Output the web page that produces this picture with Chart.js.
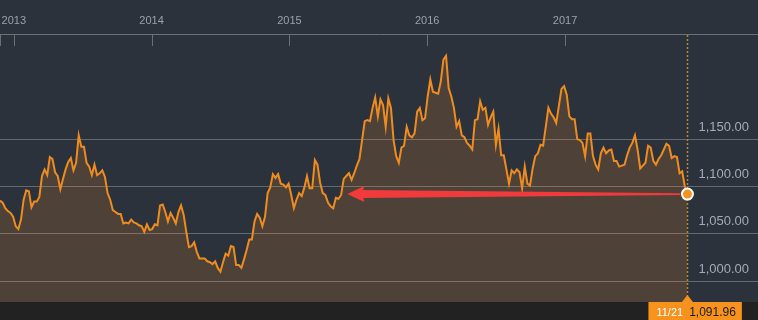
<!DOCTYPE html>
<html lang="en">
<head>
<meta charset="UTF-8">
<title>Weekly close</title>
<script src="https://cdn.jsdelivr.net/npm/chart.js"></script>
<style>
  html, body { margin: 0; padding: 0; background: #2b323c; }
  canvas { display: block; }
</style>
</head>
<body>
<canvas id="priceChart" width="758" height="320"></canvas>
<script>
// weekly closes, 11/2012 -> 11/21/2017
const prices = [
  1085, 1083, 1077, 1074, 1072, 1068, 1058, 1055, 1065, 1086,
  1096, 1095, 1078, 1084, 1084, 1089, 1111, 1118, 1112, 1131,
  1129, 1115, 1111, 1097, 1108, 1118, 1126, 1130, 1117, 1125,
  1154, 1142, 1142, 1125, 1121, 1112, 1123, 1112, 1114, 1117,
  1110, 1093, 1086, 1075, 1073, 1071, 1071, 1061, 1062, 1061,
  1065, 1062, 1061, 1059, 1058, 1052, 1060, 1054, 1055, 1060,
  1059, 1080, 1081, 1073, 1063, 1072, 1067, 1061, 1073, 1080,
  1070, 1052, 1036, 1037, 1041, 1031, 1024, 1024, 1024, 1021,
  1020, 1018, 1021, 1014, 1010, 1020, 1029, 1027, 1037, 1036,
  1017, 1017, 1014, 1023, 1033, 1044, 1044, 1063, 1071, 1067,
  1058, 1068, 1093, 1099, 1113, 1109, 1113, 1103, 1102, 1099,
  1103, 1091, 1077, 1086, 1093, 1090, 1099, 1111, 1098, 1098,
  1128, 1123, 1104, 1093, 1091, 1083, 1079, 1077, 1088, 1087,
  1091, 1108, 1111, 1114, 1107, 1114, 1122, 1129, 1149, 1169,
  1170, 1169, 1183, 1194, 1174, 1192, 1186, 1163, 1193, 1183,
  1149, 1132, 1125, 1141, 1143, 1163, 1154, 1152, 1156, 1179,
  1183, 1170, 1172, 1195, 1213, 1200, 1199, 1198, 1211, 1234,
  1238, 1204, 1195, 1183, 1163, 1169, 1154, 1152, 1146, 1143,
  1139, 1170, 1171, 1190, 1181, 1183, 1165, 1173, 1179, 1144,
  1161, 1133, 1133, 1118, 1103, 1117, 1114, 1118, 1115, 1098,
  1121, 1103, 1101, 1119, 1132, 1135, 1144, 1143, 1163, 1183,
  1177, 1173, 1167, 1185, 1203, 1206, 1197, 1174, 1171, 1171,
  1150, 1149, 1146, 1132, 1156, 1156, 1132, 1123, 1118, 1135,
  1141, 1135, 1138, 1139, 1127, 1127, 1121, 1122, 1123, 1133,
  1141, 1146, 1154, 1139, 1119, 1122, 1125, 1143, 1141, 1127,
  1123, 1129, 1133, 1139, 1145, 1143, 1130, 1132, 1131, 1114,
  1116, 1100, 1091.96
];
const firstWeek = 2012.9;     // decimal year of the first close
const lastWeek = 2017.888;    // 11/21/2017
const lastDateLabel = '11/21';

const yearTicks = [2013, 2014, 2015, 2016, 2017];
const yearLabels = ['2013', '2014', '2015', '2016', '2017'];
const priceTicks = [1000, 1050, 1100, 1150];

const arrowBackTo = 2015.42;  // arrow points back to mid 2015 at today's level

const step = (lastWeek - firstWeek) / (prices.length - 1);
const points = prices.map((v, i) => ({ x: firstWeek + i * step, y: v }));
const lastIdx = prices.length - 1;
const lastPrice = prices[lastIdx];

const fmt = v => v.toLocaleString('en-US', { minimumFractionDigits: 2, maximumFractionDigits: 2 });

Chart.defaults.font.family = '"Liberation Sans", Arial, sans-serif';

const backdrop = {
  id: 'backdrop',
  beforeDraw(chart) {
    const { ctx, chartArea, width, height } = chart;
    ctx.save();
    ctx.fillStyle = '#2b323c';
    ctx.fillRect(0, 0, width, height);
    ctx.fillStyle = '#222222';
    ctx.fillRect(0, chartArea.bottom, width, height - chartArea.bottom);
    ctx.restore();
  },
  beforeDatasetsDraw(chart) {
    // dotted cursor line at the latest point
    const { ctx, chartArea, scales } = chart;
    const x = Math.round(scales.x.getPixelForValue(points[lastIdx].x)) + 0.5;
    ctx.save();
    ctx.strokeStyle = '#b8862b';
    ctx.lineWidth = 1.5;
    ctx.setLineDash([2, 2]);
    ctx.beginPath();
    ctx.moveTo(x, chartArea.top + 1);
    ctx.lineTo(x, chartArea.bottom - 6);
    ctx.stroke();
    ctx.restore();
  },
  afterDatasetsDraw(chart) {
    const { ctx, scales } = chart;
    // red arrow back to the last time the price stood here
    const y = scales.y.getPixelForValue(lastPrice);
    const tip = scales.x.getPixelForValue(arrowBackTo);
    const tail = scales.x.getPixelForValue(points[lastIdx].x) - 7;
    ctx.save();
    ctx.fillStyle = '#f03a3c';
    ctx.beginPath();
    ctx.moveTo(tip, y);
    ctx.lineTo(tip + 17, y - 8);
    ctx.lineTo(tip + 16, y - 4);
    ctx.lineTo(tail, y - 0.8);
    ctx.lineTo(tail, y + 0.8);
    ctx.lineTo(tip + 16, y + 4);
    ctx.lineTo(tip + 17, y + 8);
    ctx.closePath();
    ctx.fill();
    ctx.restore();
  },
  afterDraw(chart) {
    const { ctx, chartArea, scales } = chart;
    // short tick marks under the top axis line
    ctx.save();
    ctx.strokeStyle = '#6c7075';
    ctx.lineWidth = 1;
    const xs = [chartArea.left].concat(yearTicks.map(t => scales.x.getPixelForValue(t)));
    xs.forEach(px => {
      const x = Math.round(px) + 0.5;
      ctx.beginPath();
      ctx.moveTo(x, chartArea.top);
      ctx.lineTo(x, chartArea.top + 12);
      ctx.stroke();
    });

    // value flag at the bottom
    const lx = scales.x.getPixelForValue(points[lastIdx].x);
    const b = chartArea.bottom;
    ctx.fillStyle = '#f7921e';
    ctx.beginPath();
    ctx.moveTo(lx - 5.5, b);
    ctx.lineTo(lx, b - 7);
    ctx.lineTo(lx + 5.5, b);
    ctx.closePath();
    ctx.fill();
    const dateFont = '11px "Liberation Sans", Arial';
    const valFont = '12px "Liberation Sans", Arial';
    ctx.font = dateFont;
    const dW = ctx.measureText(lastDateLabel).width;
    ctx.font = valFont;
    const vW = ctx.measureText(fmt(lastPrice)).width;
    const left = lx - 39;
    const boxW = 8 + dW + 6 + vW + 6;
    ctx.fillRect(left, b, boxW, chart.height - b);
    ctx.textBaseline = 'middle';
    ctx.textAlign = 'left';
    ctx.fillStyle = '#ffffff';
    ctx.font = dateFont;
    ctx.fillText(lastDateLabel, left + 8, b + 10.5);
    ctx.fillStyle = '#1c1c1c';
    ctx.font = valFont;
    ctx.fillText(fmt(lastPrice), left + 8 + dW + 6, b + 10.5);
    ctx.restore();
  }
};

new Chart(document.getElementById('priceChart'), {
  type: 'line',
  data: {
    datasets: [{
      data: points,
      borderColor: '#ef8c1f',
      borderWidth: 2,
      backgroundColor: 'rgba(240, 140, 40, 0.18)',
      fill: 'start',
      tension: 0,
      pointRadius: ctx => ctx.dataIndex === lastIdx ? 5.5 : 0,
      pointHoverRadius: 0,
      pointBackgroundColor: '#f7921e',
      pointBorderColor: '#ffffff',
      pointBorderWidth: 2
    }]
  },
  options: {
    responsive: false,
    animation: false,
    layout: { autoPadding: false, padding: { bottom: 18 } },
    plugins: { legend: { display: false }, tooltip: { enabled: false } },
    scales: {
      x: {
        type: 'linear',
        position: 'top',
        min: 2012.9,
        max: 2018.4,
        grid: { display: false, drawTicks: false },
        border: { display: true, color: '#6c7075', width: 1 },
        ticks: {
          autoSkip: false,
          maxRotation: 0,
          padding: 6,
          color: '#9aa1a9',
          font: { size: 11 },
          callback: (v, i) => yearLabels[i]
        },
        afterBuildTicks: s => { s.ticks = yearTicks.map(v => ({ value: v })); },
        afterFit: s => { s.height = 34; s.paddingLeft = 0; s.paddingRight = 0; }
      },
      y: {
        position: 'right',
        min: 978,
        max: 1261,
        grid: { color: 'rgba(160, 160, 160, 0.5)', lineWidth: 1, drawTicks: false },
        border: { display: false },
        ticks: {
          mirror: true,
          padding: -9,
          labelOffset: -12,
          color: '#a2acb6',
          font: { size: 13 },
          callback: v => fmt(v)
        },
        afterBuildTicks: s => { s.ticks = priceTicks.map(v => ({ value: v })); },
        afterFit: s => { s.width = 0; s.paddingTop = 0; s.paddingBottom = 0; }
      }
    }
  },
  plugins: [backdrop]
});
</script>
</body>
</html>
